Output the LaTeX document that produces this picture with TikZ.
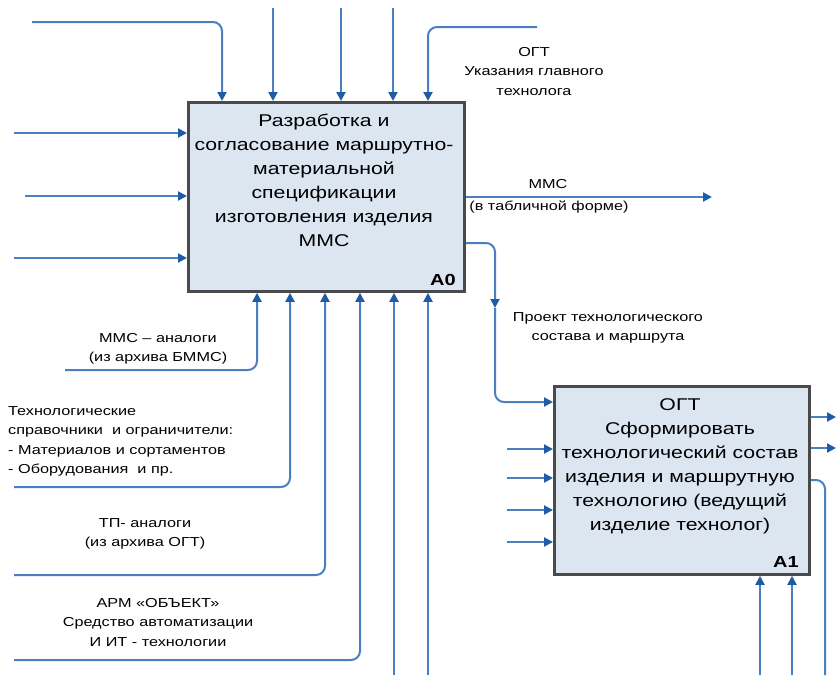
\documentclass[tikz,border=0pt]{standalone}
\usepackage{fontspec}
\setmainfont{Liberation Sans}[FakeStretch=1.25]
\usetikzlibrary{arrows.meta}
\definecolor{ln}{HTML}{4A7FC2}
\definecolor{arr}{HTML}{1F5CA8}
\definecolor{boxfill}{HTML}{DCE6F1}
\definecolor{boxdraw}{HTML}{4A4A4A}
\tikzset{
  flow/.style={draw=ln, line width=2pt, rounded corners=9pt, -{Triangle[length=9pt,width=9pt,color=arr]}},
  plainline/.style={draw=ln, line width=2pt, rounded corners=9pt},
  func/.style={draw=boxdraw, fill=boxfill, line width=2.8pt, anchor=north west, inner sep=0pt},
  boxtext/.style={align=center, inner sep=0pt, font=\fontsize{17}{24}\selectfont},
  boxnum/.style={inner sep=0pt, font=\fontsize{16}{18}\selectfont\bfseries},
  lbl/.style={align=center, inner sep=0pt, font=\fontsize{13}{19.5}\selectfont},
}
\begin{document}
\begin{tikzpicture}[x=1pt,y=-1pt]
\useasboundingbox (0,0) rectangle (838,675);
\fill[white] (0,0) rectangle (838,675);

% free ends
\coordinate (t1) at (32,22);
\coordinate (t2) at (273,8);
\coordinate (t3) at (341,8);
\coordinate (t4) at (393,8);
\coordinate (t5) at (537,27);
\coordinate (l1) at (14,133);
\coordinate (l2) at (25,196);
\coordinate (l3) at (14,258);
\coordinate (b1) at (65,370);
\coordinate (b2) at (14,487);
\coordinate (b3) at (14,575);
\coordinate (b4) at (14,660);
\coordinate (b5) at (394,675);
\coordinate (b6) at (428,675);
\coordinate (o1) at (712,197);
\coordinate (m1) at (495,308);
\coordinate (i2) at (507,449);
\coordinate (i3) at (507,478);
\coordinate (i4) at (507,510);
\coordinate (i5) at (507,542);
\coordinate (p1) at (836,417);
\coordinate (p2) at (836,448);
\coordinate (p3) at (825,675);
\coordinate (q1) at (760,675);
\coordinate (q2) at (792,675);

% boxes
\node[func, minimum width=276pt, minimum height=189pt] (a0) at (187,101) {};
\node[func, minimum width=255pt, minimum height=188pt] (a1) at (553,385) {};

% controls of A0
\draw[flow] (t1) -| ([xshift=35pt]a0.north west);
\draw[flow] (t2) -- (t2 |- a0.north);
\draw[flow] (t3) -- (t3 |- a0.north);
\draw[flow] (t4) -- (t4 |- a0.north);
\draw[flow] (t5) -| ([xshift=241pt]a0.north west);

% inputs of A0
\draw[flow] (l1) -- (l1 -| a0.west);
\draw[flow] (l2) -- (l2 -| a0.west);
\draw[flow] (l3) -- (l3 -| a0.west);

% mechanisms of A0
\draw[flow] (b1) -| ([xshift=70pt]a0.south west);
\draw[flow] (b2) -| ([xshift=103pt]a0.south west);
\draw[flow] (b3) -| ([xshift=138pt]a0.south west);
\draw[flow] (b4) -| ([xshift=173pt]a0.south west);
\draw[flow] (b5) -- (b5 |- a0.south);
\draw[flow] (b6) -- (b6 |- a0.south);

% outputs of A0
\draw[flow] (a0.east |- o1) -- (o1);
\draw[flow] ([yshift=-142pt]a0.north east) -| (m1);
\draw[flow] (m1) |- ([yshift=-17pt]a1.north west);

% A1
\draw[flow] (i2) -- (i2 -| a1.west);
\draw[flow] (i3) -- (i3 -| a1.west);
\draw[flow] (i4) -- (i4 -| a1.west);
\draw[flow] (i5) -- (i5 -| a1.west);
\draw[flow] (p1 -| a1.east) -- (p1);
\draw[flow] (p2 -| a1.east) -- (p2);
\draw[plainline] ([yshift=-95pt]a1.north east) -| (p3);
\draw[flow] (q1) -- (q1 |- a1.south);
\draw[flow] (q2) -- (q2 |- a1.south);

% box texts
\node[boxtext, anchor=north] (a0t) at (324,114) {Разработка и\\согласование маршрутно-\\материальной\\спецификации\\изготовления изделия\\ММС};
\node[boxnum, anchor=base east] (a0n) at (456,285) {A0};
\node[boxtext, anchor=north] (a1t) at (680,398) {ОГТ\\Сформировать\\технологический состав\\изделия и маршрутную\\технологию (ведущий\\изделие технолог)};
\node[boxnum, anchor=base east] (a1n) at (799,567) {A1};

% labels
\node[lbl, anchor=north] (lo) at (534,47) {ОГТ\\Указания главного\\технолога};
\node[lbl, anchor=base] (lm1) at (548,188) {ММС};
\node[lbl, anchor=base] (lm2) at (549,210) {(в табличной форме)};
\node[lbl, anchor=north] (lp) at (608,312) {Проект технологического\\состава и маршрута};
\node[lbl, anchor=north] (la) at (158,333) {ММС – аналоги\\(из архива БММС)};
\node[lbl, anchor=north west, align=left] (ls) at (8,406) {Технологические\\справочники \ и ограничители:\\- Материалов и сортаментов\\- Оборудования \ и пр.};
\node[lbl, anchor=north] (lt) at (145,518) {ТП- аналоги\\(из архива ОГТ)};
\node[lbl, anchor=north] (lr) at (158,598) {АРМ «ОБЪЕКТ»\\Средство автоматизации\\И ИТ - технологии};
\end{tikzpicture}
\end{document}
